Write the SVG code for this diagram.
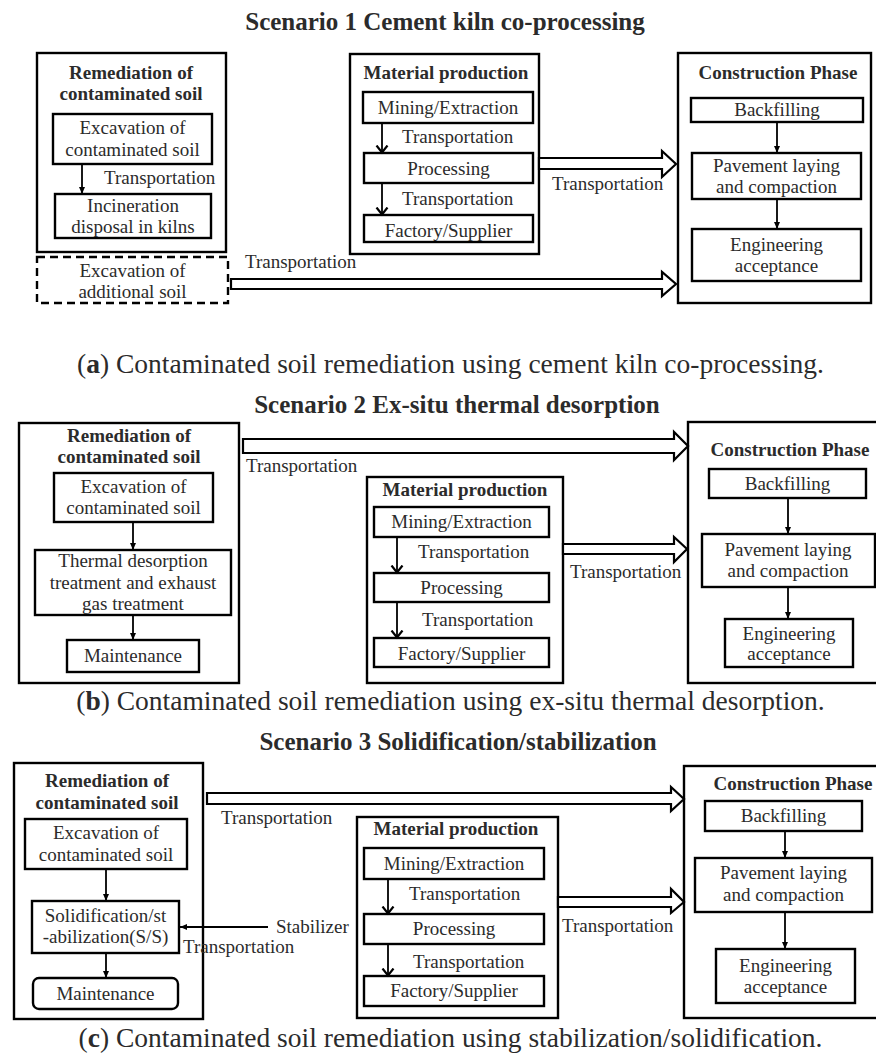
<svg xmlns="http://www.w3.org/2000/svg" width="876" height="1055" viewBox="0 0 876 1055">
<defs>
<style>
text{font-family:"Liberation Serif","Times New Roman",serif;fill:#2b2b2b}
.t{font-size:19px}
.c{text-anchor:middle}
.h{font-size:19px;font-weight:bold}
.title{font-size:25px;font-weight:bold;text-anchor:middle}
.cap{font-size:27.5px;text-anchor:middle}
.box{fill:#fff;stroke:#000;stroke-width:2.4}
.outer{fill:none;stroke:#000;stroke-width:2.4}
.dash{fill:none;stroke:#000;stroke-width:2.4;stroke-dasharray:8 5}
.ln{stroke:#000;stroke-width:1.8;fill:none}
.tri{marker-end:url(#tri)}
.vee{marker-end:url(#vee)}
.hollow{fill:#fff;stroke:#000;stroke-width:2.2;stroke-linejoin:miter}
</style>
<marker id="tri" markerUnits="userSpaceOnUse" markerWidth="8" markerHeight="8" refX="7" refY="4" orient="auto"><path d="M0,1 L7,4 L0,7 z" fill="#000"/></marker>
<marker id="vee" markerUnits="userSpaceOnUse" markerWidth="11" markerHeight="14" refX="8.5" refY="7" orient="auto"><path d="M1,1.5 L8,7 L1,12.5" fill="none" stroke="#000" stroke-width="2.2"/></marker>
</defs>
<rect width="876" height="1055" fill="#fff"/>

<!-- ===== Scenario 1 ===== -->
<text class="title" x="445" y="30">Scenario 1 Cement kiln co-processing</text>

<g id="s1-remediation">
<rect class="outer" x="37" y="53" width="189" height="199"/>
<text class="h c" x="131" y="79">Remediation of</text>
<text class="h c" x="131" y="100">contaminated soil</text>
</g>
<g id="s1-excavation">
<rect class="box" x="53" y="114" width="159" height="50"/>
<text class="t c" x="132.5" y="134">Excavation of</text>
<text class="t c" x="132.5" y="156">contaminated soil</text>
</g>
<g id="s1-incineration">
<rect class="box" x="55" y="194" width="156" height="44"/>
<text class="t c" x="133" y="212">Incineration</text>
<text class="t c" x="133" y="233">disposal in kilns</text>
</g>
<g id="s1-additional">
<rect class="dash" x="37" y="257" width="191" height="46"/>
<text class="t c" x="132.5" y="277">Excavation of</text>
<text class="t c" x="132.5" y="298">additional soil</text>
</g>
<g id="s1-material">
<rect class="outer" x="350" y="54" width="189" height="200"/>
<text class="h c" x="446" y="79">Material production</text>
</g>
<g id="s1-mining">
<rect class="box" x="363" y="92" width="170" height="31"/>
<text class="t c" x="448" y="114">Mining/Extraction</text>
</g>
<g id="s1-processing">
<rect class="box" x="364" y="153" width="169" height="30"/>
<text class="t c" x="448.5" y="175">Processing</text>
</g>
<g id="s1-factory">
<rect class="box" x="364" y="215" width="169" height="27"/>
<text class="t c" x="448.5" y="237">Factory/Supplier</text>
</g>
<g id="s1-construction">
<rect class="outer" x="678" y="53" width="193" height="250"/>
<text class="h c" x="778" y="79">Construction Phase</text>
</g>
<g id="s1-backfilling">
<rect class="box" x="691" y="98" width="172" height="24"/>
<text class="t c" x="777" y="116">Backfilling</text>
</g>
<g id="s1-pavement">
<rect class="box" x="692" y="153" width="169" height="46"/>
<text class="t c" x="776.5" y="172">Pavement laying</text>
<text class="t c" x="776.5" y="193">and compaction</text>
</g>
<g id="s1-engineering">
<rect class="box" x="692" y="229" width="169" height="52"/>
<text class="t c" x="776.5" y="251">Engineering</text>
<text class="t c" x="776.5" y="272">acceptance</text>
</g>

<g id="s1-connectors">
<line class="ln tri" x1="82" y1="164" x2="82" y2="194"/>
<text class="t" x="104" y="184">Transportation</text>
<line class="ln vee" x1="382" y1="123" x2="382" y2="153"/>
<text class="t" x="402" y="143">Transportation</text>
<line class="ln vee" x1="382" y1="183" x2="382" y2="215"/>
<text class="t" x="402" y="205">Transportation</text>
<line class="ln tri" x1="777" y1="122" x2="777" y2="153"/>
<line class="ln tri" x1="777" y1="199" x2="777" y2="229"/>
<polygon class="hollow" points="539,158 662,158 662,151 676,164 662,177 662,169 539,169"/>
<text class="t" x="552" y="190">Transportation</text>
<polygon class="hollow" points="231,279 662,279 662,272 676,284 662,296 662,289 231,289"/>
<text class="t" x="245" y="268">Transportation</text>
</g>

<text class="cap" x="450.5" y="373">(<tspan font-weight="bold">a</tspan>) Contaminated soil remediation using cement kiln co-processing.</text>

<!-- ===== Scenario 2 ===== -->
<text class="title" x="457" y="413">Scenario 2 Ex-situ thermal desorption</text>

<g id="s2-remediation">
<rect class="outer" x="19" y="423" width="220" height="260"/>
<text class="h c" x="129" y="442">Remediation of</text>
<text class="h c" x="129" y="463">contaminated soil</text>
</g>
<g id="s2-excavation">
<rect class="box" x="54" y="473" width="159" height="49"/>
<text class="t c" x="133.5" y="493">Excavation of</text>
<text class="t c" x="133.5" y="514">contaminated soil</text>
</g>
<g id="s2-thermal">
<rect class="box" x="35" y="550" width="196" height="65"/>
<text class="t c" x="133" y="567">Thermal desorption</text>
<text class="t c" x="133" y="589">treatment and exhaust</text>
<text class="t c" x="133" y="610">gas treatment</text>
</g>
<g id="s2-maintenance">
<rect class="box" x="67" y="640" width="132" height="32"/>
<text class="t c" x="133" y="662">Maintenance</text>
</g>
<g id="s2-material">
<rect class="outer" x="367" y="477" width="196" height="206"/>
<text class="h c" x="465" y="496">Material production</text>
</g>
<g id="s2-mining">
<rect class="box" x="374" y="507" width="175" height="30"/>
<text class="t c" x="461.5" y="528">Mining/Extraction</text>
</g>
<g id="s2-processing">
<rect class="box" x="374" y="573" width="175" height="29"/>
<text class="t c" x="461.5" y="594">Processing</text>
</g>
<g id="s2-factory">
<rect class="box" x="374" y="638" width="175" height="29"/>
<text class="t c" x="461.5" y="660">Factory/Supplier</text>
</g>
<g id="s2-construction">
<rect class="outer" x="688" y="422" width="190" height="261"/>
<text class="h c" x="790" y="456">Construction Phase</text>
</g>
<g id="s2-backfilling">
<rect class="box" x="709" y="469" width="157" height="29"/>
<text class="t c" x="787.5" y="490">Backfilling</text>
</g>
<g id="s2-pavement">
<rect class="box" x="702" y="534" width="173" height="53"/>
<text class="t c" x="788" y="556">Pavement laying</text>
<text class="t c" x="788" y="577">and compaction</text>
</g>
<g id="s2-engineering">
<rect class="box" x="725" y="619" width="128" height="48"/>
<text class="t c" x="789" y="640">Engineering</text>
<text class="t c" x="789" y="660">acceptance</text>
</g>

<g id="s2-connectors">
<line class="ln tri" x1="133" y1="522" x2="133" y2="550"/>
<line class="ln tri" x1="133" y1="615" x2="133" y2="640"/>
<line class="ln vee" x1="397" y1="537" x2="397" y2="573"/>
<text class="t" x="418" y="558">Transportation</text>
<line class="ln vee" x1="397" y1="602" x2="397" y2="638"/>
<text class="t" x="422" y="626">Transportation</text>
<line class="ln tri" x1="788" y1="498" x2="788" y2="534"/>
<line class="ln tri" x1="788" y1="587" x2="788" y2="619"/>
<polygon class="hollow" points="243,439 674,439 674,432 688,446 674,460 674,453 243,453"/>
<text class="t" x="246" y="472">Transportation</text>
<polygon class="hollow" points="563,544 674,544 674,537 687,549 674,562 674,554 563,554"/>
<text class="t" x="570" y="578">Transportation</text>
</g>

<text class="cap" x="450.5" y="710">(<tspan font-weight="bold">b</tspan>) Contaminated soil remediation using ex-situ thermal desorption.</text>

<!-- ===== Scenario 3 ===== -->
<text class="title" x="458" y="750">Scenario 3 Solidification/stabilization</text>

<g id="s3-remediation">
<rect class="outer" x="14" y="763" width="189" height="256"/>
<text class="h c" x="107" y="787">Remediation of</text>
<text class="h c" x="107" y="809">contaminated soil</text>
</g>
<g id="s3-excavation">
<rect class="box" x="25" y="819" width="162" height="50"/>
<text class="t c" x="106" y="839">Excavation of</text>
<text class="t c" x="106" y="861">contaminated soil</text>
</g>
<g id="s3-solidification">
<rect class="box" x="32" y="901" width="147" height="52"/>
<text class="t c" x="105.5" y="922">Solidification/st</text>
<text class="t c" x="105.5" y="943">-abilization(S/S)</text>
</g>
<g id="s3-maintenance">
<rect class="box" x="33" y="978" width="145" height="31" rx="6" ry="6"/>
<text class="t c" x="105.5" y="1000">Maintenance</text>
</g>
<g id="s3-stabilizer">
<text class="t" x="276" y="933">Stabilizer</text>
</g>
<g id="s3-material">
<rect class="outer" x="357" y="817" width="201" height="201"/>
<text class="h c" x="456" y="835">Material production</text>
</g>
<g id="s3-mining">
<rect class="box" x="364" y="848" width="180" height="31"/>
<text class="t c" x="454" y="870">Mining/Extraction</text>
</g>
<g id="s3-processing">
<rect class="box" x="364" y="914" width="180" height="30"/>
<text class="t c" x="454" y="935">Processing</text>
</g>
<g id="s3-factory">
<rect class="box" x="364" y="976" width="180" height="30"/>
<text class="t c" x="454" y="997">Factory/Supplier</text>
</g>
<g id="s3-construction">
<rect class="outer" x="684" y="766" width="194" height="252"/>
<text class="h c" x="793" y="790">Construction Phase</text>
</g>
<g id="s3-backfilling">
<rect class="box" x="705" y="801" width="157" height="30"/>
<text class="t c" x="783.5" y="822">Backfilling</text>
</g>
<g id="s3-pavement">
<rect class="box" x="695" y="858" width="177" height="54"/>
<text class="t c" x="783.5" y="879">Pavement laying</text>
<text class="t c" x="783.5" y="901">and compaction</text>
</g>
<g id="s3-engineering">
<rect class="box" x="716" y="949" width="139" height="54"/>
<text class="t c" x="785.5" y="972">Engineering</text>
<text class="t c" x="785.5" y="993">acceptance</text>
</g>

<g id="s3-connectors">
<line class="ln tri" x1="106" y1="869" x2="106" y2="901"/>
<line class="ln tri" x1="106" y1="953" x2="106" y2="978"/>
<line class="ln tri" x1="268" y1="927" x2="180" y2="927"/>
<text class="t" x="183" y="953">Transportation</text>
<line class="ln vee" x1="388" y1="879" x2="388" y2="914"/>
<text class="t" x="409" y="900">Transportation</text>
<line class="ln vee" x1="388" y1="944" x2="388" y2="976"/>
<text class="t" x="413" y="968">Transportation</text>
<line class="ln tri" x1="785" y1="831" x2="785" y2="858"/>
<line class="ln tri" x1="785" y1="912" x2="785" y2="949"/>
<polygon class="hollow" points="207,793 671,793 671,787 684,799 671,811 671,804 207,804"/>
<text class="t" x="221" y="824">Transportation</text>
<polygon class="hollow" points="558,897 671,897 671,889 684,902 671,913 671,907 558,907"/>
<text class="t" x="562" y="932">Transportation</text>
</g>

<text class="cap" x="450.5" y="1047">(<tspan font-weight="bold">c</tspan>) Contaminated soil remediation using stabilization/solidification.</text>
</svg>
